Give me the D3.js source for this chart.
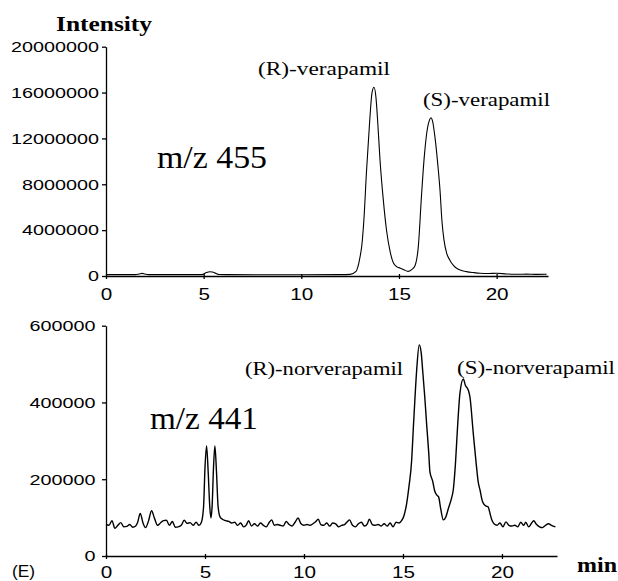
<!DOCTYPE html>
<html>
<head>
<meta charset="utf-8">
<style>
    body { margin: 0; background: #fff; }
    svg { display: block; }
    .sans { font-family: 'Liberation Sans', Arial, sans-serif; }
    .serif { font-family: 'Liberation Serif', 'Times New Roman', serif; }
</style>
</head>
<body>
<svg width="618" height="581"></svg>

<script src="https://d3js.org/d3.v7.min.js"></script>
<script>
    // m/z 455 trace (verapamil), time in min, intensity in counts
    let topTime = [0, 1.5, 1.7, 1.85, 2.0, 2.2, 4.9, 5.15, 5.3, 5.45, 5.6, 5.8, 8, 10, 12, 12.5, 12.8,
        13.0, 13.1, 13.2, 13.34, 13.5, 13.62, 13.72, 13.82, 13.92, 14.03, 14.2, 14.37, 14.55, 14.71,
        14.9, 15.05, 15.25, 15.46, 15.65, 15.82, 15.99, 16.16, 16.3, 16.45, 16.56, 16.64, 16.72,
        16.85, 17.0, 17.1, 17.2, 17.3, 17.44, 17.6, 17.8, 17.95, 18.2, 18.46, 18.8, 19.15, 19.6,
        20, 20.5, 20.85, 21.5, 22.0, 22.56]
    let topIntensity = [120e3, 120e3, 180e3, 230e3, 170e3, 120e3, 120e3, 300e3, 370e3, 350e3, 250e3,
        130e3, 110e3, 110e3, 120e3, 140e3, 400e3,
        1.6e6, 2.7e6, 4.8e6, 9.2e6, 13.5e6, 16.0e6, 16.46e6, 15.6e6, 13.2e6, 10.1e6, 6.6e6, 3.9e6,
        2.1e6, 1.15e6, 0.8e6, 0.7e6, 0.55e6, 0.4e6, 0.55e6, 0.9e6, 2.56e6, 7.2e6, 10.5e6, 12.8e6,
        13.6e6, 13.8e6, 13.5e6, 12.0e6, 9.5e6, 7.5e6, 4.8e6, 3.2e6, 2.0e6, 1.4e6, 0.9e6, 0.67e6,
        0.48e6, 0.38e6, 0.3e6, 0.24e6, 0.22e6, 0.24e6, 0.18e6, 0.15e6, 0.16e6, 0.14e6, 0.15e6]

    // m/z 441 trace (norverapamil)
    let botTime = [0, 0.15, 0.3, 0.45, 0.6, 0.75, 0.9, 1.05, 1.2, 1.35, 1.5, 1.6, 1.73, 1.87, 2.0,
        2.15, 2.3, 2.45, 2.6, 2.75, 2.9, 3.05, 3.2, 3.35, 3.5, 3.65, 3.8, 3.95, 4.1, 4.25, 4.4,
        4.55, 4.7, 4.82, 4.93, 5.0, 5.08, 5.16, 5.24, 5.3, 5.36, 5.43, 5.5, 5.58, 5.66, 5.76, 5.9,
        6.05, 6.2, 6.35, 6.5, 6.65, 6.8, 6.95, 7.1, 7.2, 7.35, 7.5, 7.65, 7.8, 7.95, 8.1, 8.25,
        8.37, 8.5, 8.65, 8.8, 8.95, 9.1, 9.25, 9.4, 9.55, 9.7, 9.85, 10.0, 10.15, 10.3, 10.45,
        10.6, 10.72, 10.85, 11.0, 11.15, 11.3, 11.45, 11.6, 11.75, 11.9, 12.05, 12.2, 12.3, 12.45,
        12.6, 12.75, 12.9, 13.05, 13.2, 13.3, 13.45, 13.6, 13.75, 13.9, 14.05, 14.2, 14.35, 14.5,
        14.65, 14.8, 14.93, 15.05, 15.19, 15.3, 15.44, 15.52, 15.6, 15.7, 15.82, 15.92, 16.0,
        16.1, 16.2, 16.3, 16.36, 16.5, 16.6, 16.7, 16.8, 16.9, 17.04, 17.15, 17.3, 17.45, 17.54,
        17.65, 17.75, 17.88, 18.05, 18.15, 18.3, 18.38, 18.55, 18.7, 18.8, 18.9, 19.0, 19.06,
        19.2, 19.3, 19.4, 19.48, 19.6, 19.75, 19.9, 20.05, 20.2, 20.35, 20.5, 20.65, 20.8, 20.95,
        21.1, 21.2, 21.35, 21.5, 21.6, 21.75, 21.9, 22.05, 22.2, 22.35, 22.5, 22.7]
    let botIntensityK = [82, 80, 92, 72, 80, 87, 76, 77, 82, 75, 78, 88, 111, 86, 74,
        92, 118, 98, 80, 86, 92, 93, 80, 90, 75, 76, 80, 93, 85, 87, 80,
        88, 80, 88, 130, 230, 287, 220, 130, 99, 130, 230, 287, 220, 130, 102, 95,
        92, 90, 86, 88, 80, 86, 76, 82, 92, 78, 84, 78, 86, 80, 76, 88,
        94, 80, 82, 80, 78, 90, 82, 78, 88, 99, 84, 80, 82, 80, 84,
        90, 96, 82, 80, 86, 78, 86, 84, 76, 80, 82, 90, 94, 80,
        76, 84, 88, 78, 84, 96, 82, 80, 82, 78, 84, 78, 86, 76,
        88, 86, 92, 105, 138, 180, 250, 330, 406, 490, 550, 530, 480,
        415, 340, 270, 220, 195, 170, 159, 154, 125, 94, 100, 125, 150, 172,
        240, 330, 425, 461, 445, 432, 415, 320, 240, 193, 170, 145, 137,
        130, 128, 110, 95, 84, 80, 86, 76, 89, 80, 78, 80, 76, 88,
        80, 88, 76, 86, 92, 82, 76, 74, 80, 84, 80, 76]

    let xTicks = [0, 5, 10, 15, 20]
    let topYTicks = [0, 4000000, 8000000, 12000000, 16000000, 20000000]
    let botYTicks = [0, 200000, 400000, 600000]

    let svg = d3.select("svg")

    let topData = topTime.map((t, i) => ({ t: t, v: topIntensity[i] }))
    let botData = botTime.map((t, i) => ({ t: t, v: botIntensityK[i] * 1000 }))

    // scales
    let xTop = d3.scaleLinear().domain([0, 22.63]).range([106, 548])
    let yTop = d3.scaleLinear().domain([0, 20000000]).range([276, 46.7])
    let xBot = d3.scaleLinear().domain([0, 22.78]).range([106, 557])
    let yBot = d3.scaleLinear().domain([0, 600000]).range([556, 325.7])

    function drawPanel(x, y, yTicks, data, labelGap, lineWidth, xLabelY, xLabelSize) {
        let gx = svg.append("g")
            .attr("transform", "translate(0," + y(0) + ")")
            .call(d3.axisBottom(x).tickValues(xTicks).tickSizeInner(4).tickSizeOuter(0))
        gx.selectAll(".tick line").attr("y1", -2).attr("y2", 3)
        gx.selectAll(".tick text")
            .attr("class", "sans")
            .attr("y", xLabelY).attr("dy", null)
            .style("font-size", xLabelSize + "px")
            .attr("textLength", d => String(d).length * 11.5)
            .attr("lengthAdjust", "spacingAndGlyphs")

        let gy = svg.append("g")
            .attr("transform", "translate(" + x(0) + ",0)")
            .call(d3.axisLeft(y).tickValues(yTicks).tickFormat(d3.format("d")).tickSizeInner(4).tickSizeOuter(0))
        gy.selectAll(".tick text")
            .attr("class", "sans")
            .attr("x", -labelGap)
            .style("font-size", "15px")
            .attr("textLength", d => String(d).length * 11)
            .attr("lengthAdjust", "spacingAndGlyphs")

        svg.selectAll(".domain, .tick line").style("stroke", "#000").style("stroke-width", 1.3)
        svg.selectAll(".tick text").style("fill", "#000")

        svg.append("path")
            .datum(data)
            .attr("d", d3.line().x(d => x(d.t)).y(d => y(d.v)).curve(d3.curveMonotoneX))
            .style("fill", "none")
            .style("stroke", "#000")
            .style("stroke-width", lineWidth)
    }

    drawPanel(xTop, yTop, topYTicks, topData, 7, 1.1, 23.5, 17)
    drawPanel(xBot, yBot, botYTicks, botData, 10.5, 1.4, 21.5, 16)

    // text labels
    function label(txt, x, y, cls, size, weight, len) {
        let t = svg.append("text")
            .attr("class", cls)
            .attr("x", x).attr("y", y)
            .style("font-size", size + "px")
            .style("font-weight", weight)
            .style("fill", "#000")
            .text(txt)
        if (len) t.attr("textLength", len).attr("lengthAdjust", "spacingAndGlyphs")
    }

    label("Intensity", 56, 30.5, "serif", 22, "bold", 96)
    label("(R)-verapamil", 258, 75, "serif", 19, "normal", 132)
    label("(S)-verapamil", 423, 106, "serif", 19, "normal", 127)
    label("m/z 455", 157, 168, "serif", 32, "normal", 110)
    label("(R)-norverapamil", 245, 374.5, "serif", 19, "normal", 158)
    label("(S)-norverapamil", 457, 373.5, "serif", 19, "normal", 158)
    label("m/z 441", 150, 429, "serif", 31, "normal", 108)
    label("(E)", 12, 576.5, "sans", 16, "normal", 23)
    label("min", 577, 572, "serif", 22, "bold", 40)
</script>
</body>
</html>
